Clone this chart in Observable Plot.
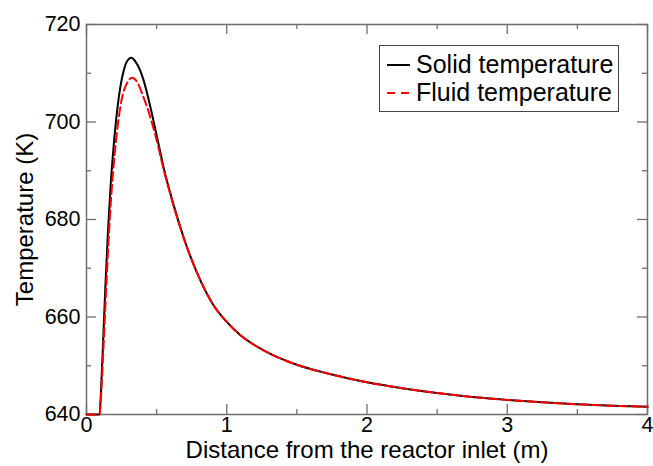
<!DOCTYPE html>
<html>
<head>
<meta charset="utf-8">
<script src="https://cdn.jsdelivr.net/npm/d3@7"></script>
<script src="https://cdn.jsdelivr.net/npm/@observablehq/plot@0.6"></script>
<style>
  html, body { margin: 0; padding: 0; background: #fff; }
  #chart svg { display: block; }
</style>
</head>
<body>
<div id="chart"></div>
<script>
// Solid temperature (K) vs distance (m)
const solidX = [0, 0.093, 0.105, 0.12, 0.135, 0.152, 0.171, 0.195, 0.219, 0.242, 0.266, 0.290, 0.319, 0.349, 0.373, 0.40, 0.433, 0.468, 0.504, 0.551, 0.623, 0.694, 0.789, 0.908, 1.0, 1.1, 1.2, 1.3, 1.4, 1.5, 1.75, 2.0, 2.25, 2.5, 2.75, 3.0, 3.25, 3.5, 3.75, 4.0];
const solidT = [640, 640, 646.0, 656.0, 666.5, 677.0, 686.5, 695.5, 702.5, 707.3, 710.6, 712.5, 713.2, 712.4, 711.2, 709.2, 705.8, 701.5, 696.8, 690.5, 682.8, 676.2, 669.0, 662.3, 659.0, 656.2, 654.2, 652.6, 651.3, 650.2, 648.2, 646.6, 645.4, 644.4, 643.6, 643.0, 642.5, 642.1, 641.8, 641.6];
// Fluid temperature (K) vs distance (m)
const fluidX = [0, 0.093, 0.107, 0.123, 0.139, 0.157, 0.177, 0.202, 0.228, 0.252, 0.278, 0.302, 0.326, 0.361, 0.397, 0.444, 0.492, 0.55, 0.623, 0.694, 0.789, 0.908, 1.0, 1.1, 1.2, 1.3, 1.4, 1.5, 1.75, 2.0, 2.25, 2.5, 2.75, 3.0, 3.25, 3.5, 3.75, 4.0];
const fluidT = [640, 640, 645.5, 655.0, 665.0, 675.5, 685.0, 693.8, 700.5, 704.8, 707.3, 708.6, 709.1, 708.2, 705.8, 702.0, 697.2, 690.3, 682.6, 676.1, 669.0, 662.3, 659.0, 656.2, 654.2, 652.6, 651.3, 650.2, 648.2, 646.6, 645.4, 644.4, 643.6, 643.0, 642.5, 642.1, 641.8, 641.6];

const xMajor = [0, 1, 2, 3, 4];
const xMinor = [0.5, 1.5, 2.5, 3.5];
const yMajor = [640, 660, 680, 700, 720];
const yMinor = [650, 670, 690, 710];
const seriesNames = ["Solid temperature", "Fluid temperature"];

const solid = solidX.map((x, i) => ({x, t: solidT[i]}));
const fluid = fluidX.map((x, i) => ({x, t: fluidT[i]}));

const W = 653, H = 466;
const mL = 86, mR = 6, mT = 24, mB = 52;
const pw = W - mL - mR, ph = H - mT - mB;
const major = 10, minor = 5;
const font = "Liberation Sans, Arial, Helvetica, sans-serif";
const tickColor = "#6e6e6e";
const tickFont = 21.5, labelFont = 24, legendFont = 25;

const chart = Plot.plot({
  width: W, height: H,
  marginLeft: mL, marginRight: mR, marginTop: mT, marginBottom: mB,
  style: {fontFamily: font, fontSize: tickFont + "px", color: "#000", background: "#fff"},
  x: {domain: [0, 4]},
  y: {domain: [640, 720]},
  marks: [
    Plot.frame({stroke: tickColor, strokeWidth: 1.5}),
    // inward ticks: bottom / top
    Plot.ruleX(xMajor, {x: d => d, stroke: tickColor, strokeWidth: 1.3, insetTop: ph - major}),
    Plot.ruleX(xMinor, {x: d => d, stroke: tickColor, strokeWidth: 1.3, insetTop: ph - minor}),
    Plot.ruleX(xMajor, {x: d => d, stroke: tickColor, strokeWidth: 1.3, insetBottom: ph - major}),
    Plot.ruleX(xMinor, {x: d => d, stroke: tickColor, strokeWidth: 1.3, insetBottom: ph - minor}),
    // inward ticks: left / right
    Plot.ruleY(yMajor, {y: d => d, stroke: tickColor, strokeWidth: 1.3, insetRight: pw - major}),
    Plot.ruleY(yMinor, {y: d => d, stroke: tickColor, strokeWidth: 1.3, insetRight: pw - minor}),
    Plot.ruleY(yMajor, {y: d => d, stroke: tickColor, strokeWidth: 1.3, insetLeft: pw - major}),
    Plot.ruleY(yMinor, {y: d => d, stroke: tickColor, strokeWidth: 1.3, insetLeft: pw - minor}),
    Plot.line(solid, {x: "x", y: "t", stroke: "#000", strokeWidth: 2, curve: "monotone-x"}),
    Plot.line(fluid, {x: "x", y: "t", stroke: "#ff0000", strokeWidth: 2, strokeDasharray: "9,4", curve: "monotone-x"}),
    Plot.axisX({ticks: xMajor, tickSize: 0, tickPadding: 2, tickFormat: d => String(d), fontSize: tickFont, label: null}),
    Plot.axisX({ticks: [], tickSize: 0, fontSize: labelFont,
      label: "Distance from the reactor inlet (m)", labelAnchor: "center", labelArrow: "none", labelOffset: 43}),
    Plot.axisY({ticks: yMajor, tickSize: 0, tickPadding: 6, tickFormat: d => String(d), fontSize: tickFont, label: null}),
    Plot.axisY({ticks: [], tickSize: 0, fontSize: labelFont,
      label: "Temperature (K)", labelAnchor: "center", labelArrow: "none", labelOffset: 71})
  ]
});

// legend box drawn inside the plot area
const svg = d3.select(chart);
const lg = svg.append("g").attr("font-family", font).attr("font-size", legendFont).attr("text-anchor", "start");
lg.append("rect").attr("x", 379.5).attr("y", 45.5).attr("width", 239).attr("height", 66)
  .attr("fill", "#fff").attr("stroke", "#444").attr("stroke-width", 1);
const styles = [{stroke: "#000", dash: null}, {stroke: "#ff0000", dash: "8,6"}];
seriesNames.forEach((name, i) => {
  const cy = 65 + i * 28;
  lg.append("line").attr("x1", 387).attr("x2", 410).attr("y1", cy).attr("y2", cy)
    .attr("stroke", styles[i].stroke).attr("stroke-width", 2)
    .attr("stroke-dasharray", styles[i].dash);
  lg.append("text").attr("x", 416).attr("y", cy + 8).attr("fill", "#000").text(name);
});

document.getElementById("chart").appendChild(chart);
</script>
</body>
</html>
